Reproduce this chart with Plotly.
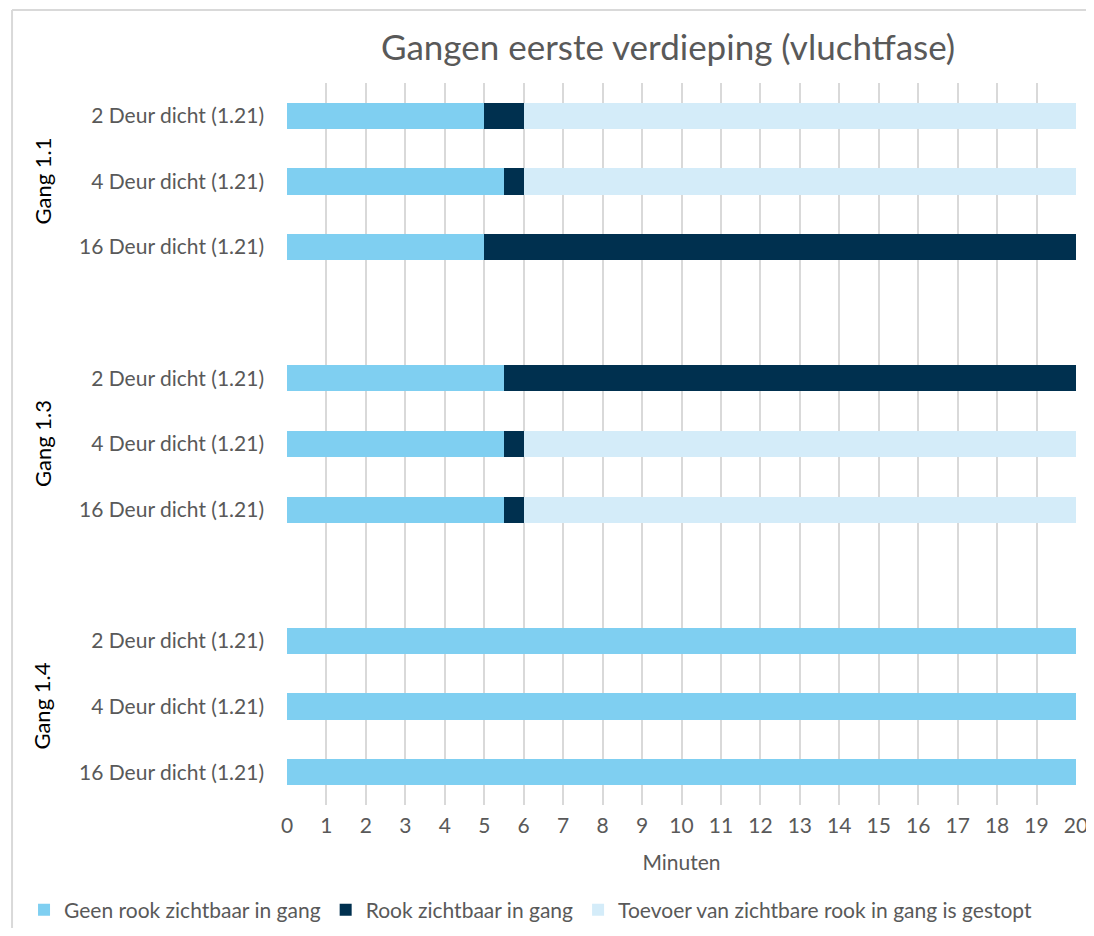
import plotly.graph_objects as go

# Data
groups = ["Gang 1.1", "Gang 1.3", "Gang 1.4"]
scenarios = ["2 Deur dicht (1.21)", "4 Deur dicht (1.21)", "16 Deur dicht (1.21)"]
series_names = [
    "Geen rook zichtbaar in gang",
    "Rook zichtbaar in gang",
    "Toevoer van zichtbare rook in gang is gestopt",
]
geen_rook = [5, 5.5, 5, 5.5, 5.5, 5.5, 20, 20, 20]
rook = [1, 0.5, 15, 14.5, 0.5, 0.5, 0, 0, 0]
toevoer = [14, 14, 0, 0, 14, 14, 0, 0, 0]
x_ticks = list(range(0, 21))

colors = ["#7FCFF1", "#00304F", "#D4ECF9"]
font_family = "Lato, 'Open Sans', sans-serif"

# Build category ids (with blank spacer rows between groups)
cat_ids, cat_text = [], []
bar_ids = []
for gi, g in enumerate(groups):
    for s in scenarios:
        cid = f"{g}|{s}"
        cat_ids.append(cid)
        cat_text.append(s)
        bar_ids.append(cid)
    if gi < len(groups) - 1:
        cat_ids.append(f"gap{gi}")
        cat_text.append("")

fig = go.Figure()
for name, vals, col in zip(series_names, [geen_rook, rook, toevoer], colors):
    fig.add_trace(go.Bar(
        y=bar_ids, x=vals, name=name, orientation="h",
        marker=dict(color=col, line=dict(width=0)),
        width=0.4,
    ))

fig.update_layout(
    width=1086, height=920,
    autosize=False,
    barmode="stack",
    plot_bgcolor="white", paper_bgcolor="white",
    margin=dict(l=279, r=18, t=75, b=123, autoexpand=False),
    font=dict(family=font_family, color="#595959", size=21),
    title=dict(text="Gangen eerste verdieping (vluchtfase)", x=0.483, xref="paper",
               y=0.9565, yref="container", xanchor="center", yanchor="middle",
               font=dict(size=35, color="#595959", family=font_family)),
    showlegend=True,
    legend=dict(orientation="h", x=-0.3333, xref="paper", xanchor="left",
                y=-0.1454, yref="paper", yanchor="middle",
                font=dict(size=21, color="#595959"),
                traceorder="normal", itemwidth=30),
    bargap=0.6,
)

fig.update_xaxes(
    range=[0, 20], tickvals=x_ticks, ticktext=[str(v) for v in x_ticks],
    showgrid=True, gridcolor="#D9D9D9", gridwidth=1.5,
    zeroline=False, showline=False,
    ticks="", ticklabelstandoff=6,
    title=dict(text="Minuten", font=dict(size=21, color="#595959"), standoff=19),
)
fig.update_yaxes(
    type="category", categoryorder="array", categoryarray=cat_ids[::-1],
    tickvals=cat_ids, ticktext=cat_text, range=[-0.5, len(cat_ids) - 0.5],
    showgrid=False, zeroline=False, showline=False, ticks="",
    ticklabelstandoff=22,
)

# Group labels (rotated)
for g in groups:
    mid = f"{g}|{scenarios[1]}"
    fig.add_annotation(text=g, x=-0.3105, xref="paper", xanchor="center",
                       y=mid, yref="y", yanchor="middle",
                       textangle=-90, showarrow=False,
                       font=dict(size=22, color="#000000", family=font_family))

# Chart border (top and left edges)
fig.add_shape(type="line", xref="paper", yref="paper",
              x0=-0.3485, x1=1.05, y0=1.1011, y1=1.1011,
              line=dict(color="#D9D9D9", width=2), layer="above")
fig.add_shape(type="line", xref="paper", yref="paper",
              x0=-0.3485, x1=-0.3485, y0=-0.3, y1=1.1011,
              line=dict(color="#D9D9D9", width=2), layer="above")

fig.write_html("out.html")
